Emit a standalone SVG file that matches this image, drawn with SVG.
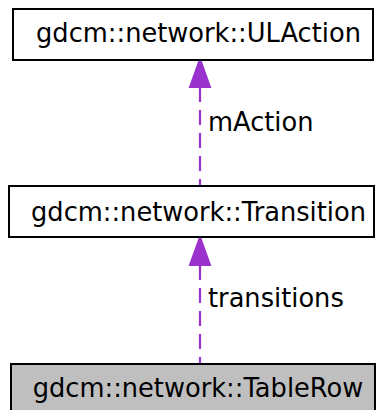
<svg xmlns="http://www.w3.org/2000/svg" width="378" height="410" viewBox="0 0 378 410">
<style>
.box{fill:#ffffff;stroke:#000000;stroke-width:2}
.cur{fill:#bfbfbf;stroke:#000000;stroke-width:2}
.t{font-family:"DejaVu Sans",sans-serif;font-size:25.7px;fill:#000000;text-anchor:middle}
.lbl{font-family:"DejaVu Sans",sans-serif;font-size:25.7px;fill:#000000}
.edge{stroke:#9a32cd;stroke-width:2.2;stroke-dasharray:15,8;fill:none}
.head{fill:#9a32cd;stroke:#9a32cd;stroke-width:2}
</style>
<rect width="378" height="410" fill="#ffffff"/>
<g id="connectors">
<path class="edge" d="M200,87 L200,186"/>
<polygon class="head" points="200,59 190,87 210,87"/>
<text class="lbl" x="208" y="131">mAction</text>
<path class="edge" d="M200,265 L200,364"/>
<polygon class="head" points="200,237 190,265 210,265"/>
<text class="lbl" x="208" y="307">transitions</text>
</g>
<g id="node-ulaction">
<rect class="box" x="13" y="9" width="360" height="51"/>
<text class="t" x="198.5" y="42">gdcm::network::ULAction</text>
</g>
<g id="node-transition">
<rect class="box" x="9" y="186" width="365" height="51"/>
<text class="t" x="198.5" y="221">gdcm::network::Transition</text>
</g>
<g id="node-tablerow">
<rect class="cur" x="11" y="364" width="364" height="51"/>
<text class="t" x="198" y="397">gdcm::network::TableRow</text>
</g>
</svg>
